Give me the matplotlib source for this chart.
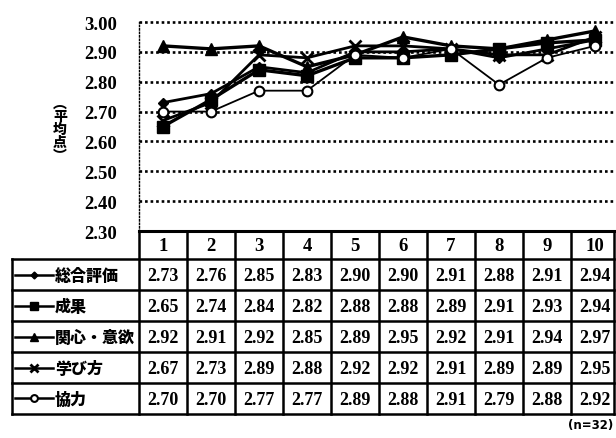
import numpy as np
import matplotlib
matplotlib.use("Agg")
import matplotlib.pyplot as plt

plt.rcParams['font.family'] = ['Liberation Serif', 'Noto Sans CJK JP']

rounds = [1, 2, 3, 4, 5, 6, 7, 8, 9, 10]
names = ["総合評価", "成果", "関心・意欲", "学び方", "協力"]
sogo = [2.73, 2.76, 2.85, 2.83, 2.90, 2.90, 2.91, 2.88, 2.91, 2.94]
seika = [2.65, 2.74, 2.84, 2.82, 2.88, 2.88, 2.89, 2.91, 2.93, 2.94]
kanshin = [2.92, 2.91, 2.92, 2.85, 2.89, 2.95, 2.92, 2.91, 2.94, 2.97]
manabi = [2.67, 2.73, 2.89, 2.88, 2.92, 2.92, 2.91, 2.89, 2.89, 2.95]
kyoryoku = [2.70, 2.70, 2.77, 2.77, 2.89, 2.88, 2.91, 2.79, 2.88, 2.92]
series = [sogo, seika, kanshin, manabi, kyoryoku]
yticks = [2.30, 2.40, 2.50, 2.60, 2.70, 2.80, 2.90, 3.00]

styles = [
    dict(marker="D", ms=5, lw=2.0, mfc="black", mec="black"),
    dict(marker="s", ms=8, lw=2.4, mfc="black", mec="black"),
    dict(marker="^", ms=8.5, lw=2.4, mfc="black", mec="black"),
    dict(marker="x", ms=8, lw=2.0, mew=2.0, mfc="black", mec="black"),
    dict(marker="o", ms=7, lw=1.3, mew=1.5, mfc="white", mec="black"),
]

W, H = 616, 439
fig = plt.figure(figsize=(W / 100, H / 100), dpi=100)

# pixel layout
x0, colw, ncol = 139, 48, 10
ytop, ybot = 23, 232
ax = fig.add_axes([x0 / W, 1 - ybot / H, colw * ncol / W, (ybot - ytop) / H])

for vals, st in zip(series, styles):
    ax.plot(rounds, vals, color="black", **st)

ax.set_xlim(0.5, 10.5)
ax.set_ylim(2.30, 3.00)
ax.set_yticks(yticks)
ax.set_yticklabels(["%.2f" % v for v in yticks], fontsize=13.5, fontweight="bold")
ax.tick_params(axis="y", length=0, pad=16)
ax.set_xticks([])
for v in yticks[1:]:
    ax.axhline(v, color="black", lw=1.9, ls=(0, (1, 1.1)), zorder=0, clip_on=False)
ax.spines["top"].set_visible(False)
ax.spines["right"].set_visible(False)
ax.spines["left"].set_linestyle((0, (1, 1.5)))
ax.spines["left"].set_linewidth(1.0)
ax.spines["bottom"].set_linewidth(2.2)

# vertical axis title, characters stacked upright
ylab = ["︵", "平", "均", "点", "︶"]
for j, ch in enumerate(ylab):
    fig.text(60 / W, 1 - (104 + 13 * j) / H, ch, ha="center", va="center",
             fontsize=10, fontweight="heavy", family=["Noto Sans CJK JP"])

# data table drawn in pixel coordinates
tab = fig.add_axes([0, 0, 1, 1])
tab.set_xlim(0, W)
tab.set_ylim(H, 0)
tab.axis("off")

xl, xr = 12, 614
yh, rowh = 260, 31
ylast = yh + rowh * len(names)
lk = dict(color="black", lw=1.8, solid_capstyle="projecting")

# horizontal rules
tab.plot([x0, xr], [ybot, ybot], **lk)
for i in range(len(names) + 1):
    yy = yh + rowh * i
    tab.plot([xl, xr], [yy, yy], **lk)
# vertical rules
tab.plot([xl, xl], [yh, ylast], **lk)
for k in range(ncol):
    xx = x0 + colw * k
    tab.plot([xx, xx], [ybot, ylast], **lk)
tab.plot([xr, xr], [ybot, ylast], **lk)

for k, r in enumerate(rounds):
    xc = x0 + colw * (k + 0.5)
    tab.text(xc, (ybot + yh) / 2 + 1, str(r), ha="center", va="center",
             fontsize=13.5, fontweight="bold")

for i, (name, vals, st) in enumerate(zip(names, series, styles)):
    yc = yh + rowh * (i + 0.5)
    tab.plot([15, 53], [yc, yc], color="black", lw=1.8)
    leg = dict(st)
    leg["ms"] = leg["ms"] * 0.7
    leg["lw"] = 0
    tab.plot([34], [yc], color="black", **leg)
    tab.text(55, yc, name, ha="left", va="center", fontsize=11.5,
             fontweight="heavy", family=["Noto Sans CJK JP"])
    for k, v in enumerate(vals):
        xc = x0 + colw * (k + 0.5)
        tab.text(xc, yc + 1, "%.2f" % v, ha="center", va="center",
                 fontsize=13, fontweight="bold")

tab.text(613, 426, "(n=32)", ha="right", va="center", fontsize=8.5,
         fontweight="bold", family=["DejaVu Sans"])

fig.savefig("out.png", dpi=100, facecolor="white")
